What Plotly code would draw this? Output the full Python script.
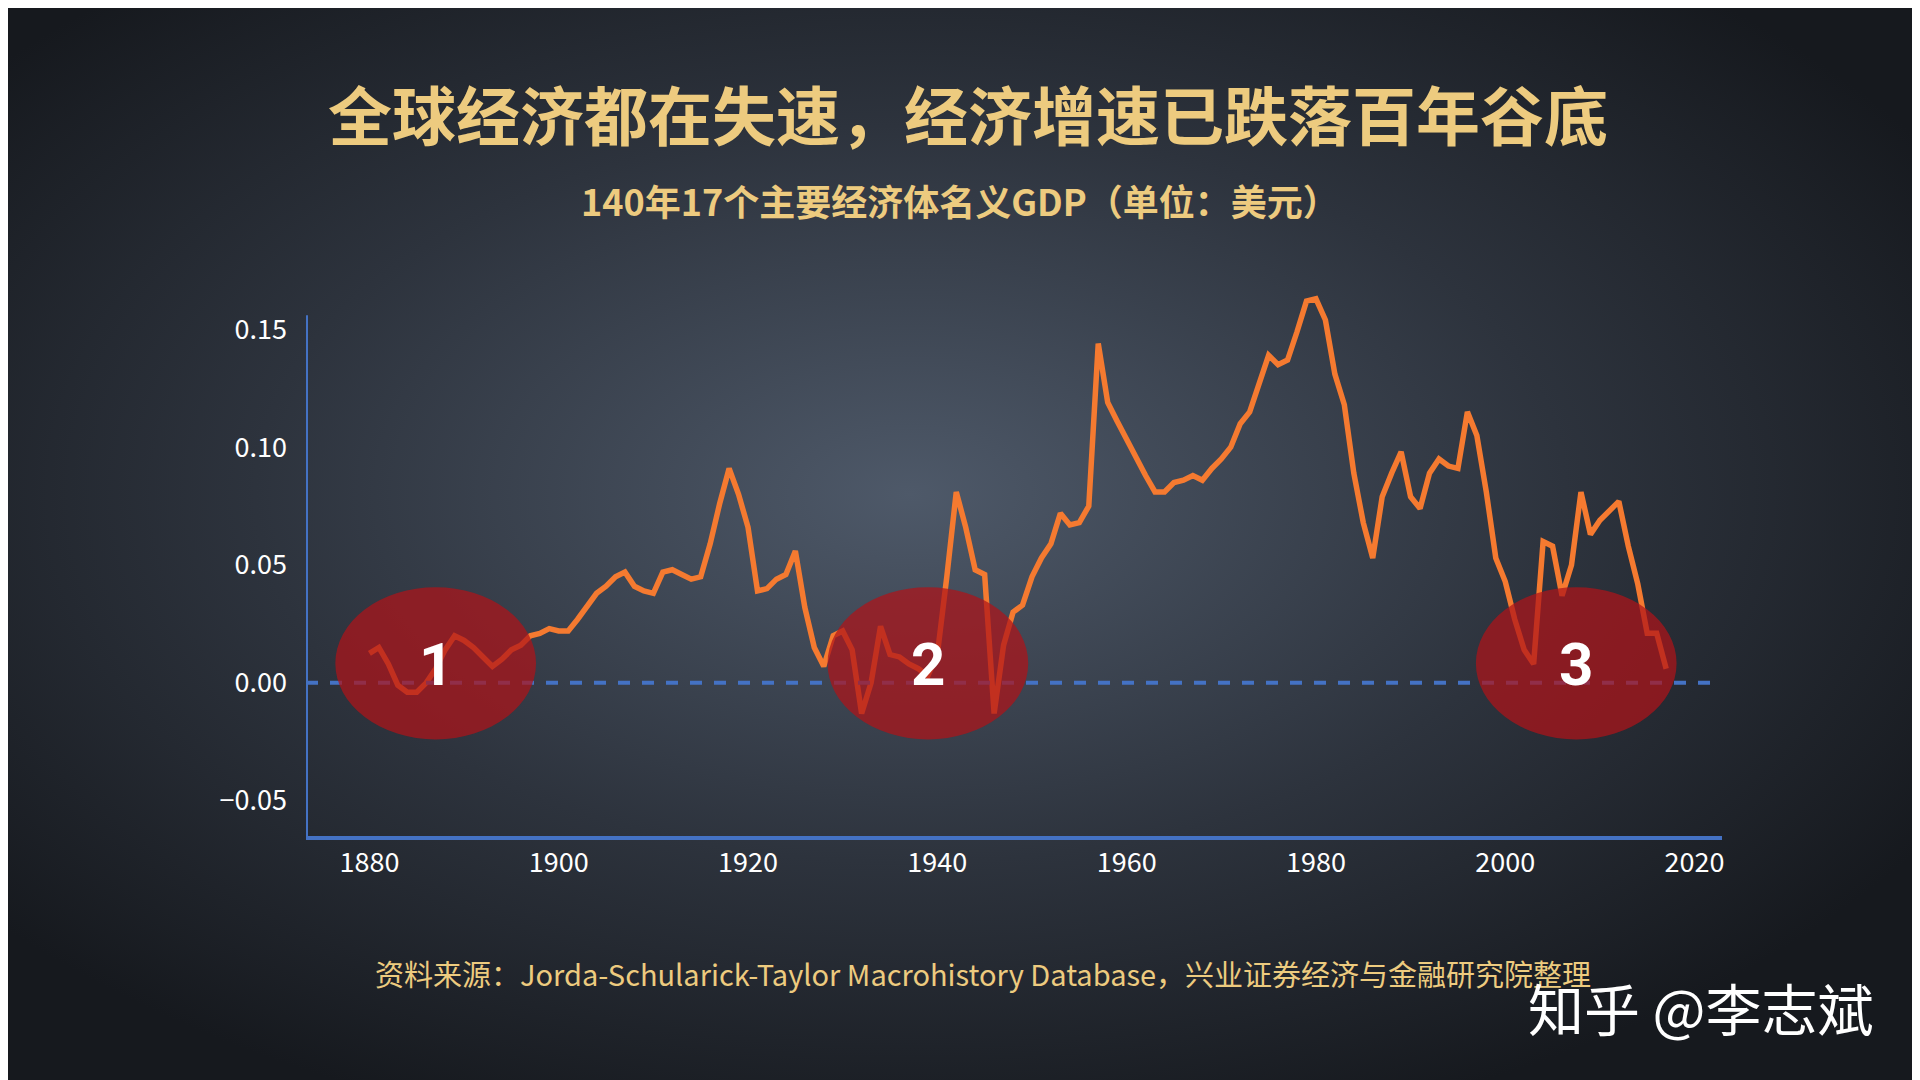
import base64
import plotly.graph_objects as go

# data
years = list(range(1880, 2018))
growth = [0.0125, 0.015, 0.008, -0.001, -0.004, -0.004, 0.000, 0.006, 0.014, 0.020,
          0.018, 0.015, 0.011, 0.007, 0.010, 0.014, 0.016, 0.020, 0.021, 0.023,
          0.022, 0.022, 0.027, 0.033, 0.038, 0.041, 0.045, 0.047, 0.041, 0.039,
          0.038, 0.047, 0.048, 0.046, 0.044, 0.045, 0.059, 0.076, 0.091, 0.080,
          0.066, 0.039, 0.040, 0.044, 0.046, 0.056, 0.032, 0.015, 0.007, 0.020,
          0.022, 0.014, -0.013, 0.000, 0.024, 0.012, 0.011, 0.008, 0.006, 0.003,
          0.012, 0.045, 0.081, 0.066, 0.048, 0.046, -0.013, 0.016, 0.030, 0.033,
          0.045, 0.053, 0.059, 0.072, 0.067, 0.068, 0.075, 0.144, 0.119, 0.111,
          0.103, 0.095, 0.088, 0.081, 0.081, 0.085, 0.086, 0.088, 0.086, 0.091,
          0.095, 0.100, 0.110, 0.115, 0.127, 0.139, 0.135, 0.137, 0.149, 0.162,
          0.163, 0.154, 0.131, 0.118, 0.089, 0.068, 0.053, 0.079, 0.089, 0.098,
          0.079, 0.074, 0.089, 0.095, 0.092, 0.091, 0.115, 0.105, 0.081, 0.053,
          0.043, 0.027, 0.014, 0.008, 0.060, 0.058, 0.037, 0.050, 0.081, 0.063,
          0.069, 0.073, 0.077, 0.058, 0.042, 0.021, 0.021, 0.006]
circle_years = [1887, 1939, 2007.5]
circle_labels = ["1", "2", "3"]
x_ticks = [1880, 1900, 1920, 1940, 1960, 1980, 2000, 2020]
y_ticks = [-0.05, 0.0, 0.05, 0.10, 0.15]

X0, X1 = 1873.3, 2022.9
Y0, Y1 = -0.065, 0.168
gold = "#EDCB7F"
blue = "#4472C4"
L, R, T, B = 298, 206, 279, 252
PW, PH = 1920 - L - R, 1080 - T - B

svg = ('<svg xmlns="http://www.w3.org/2000/svg" width="1920" height="1080">'
       '<defs><radialGradient id="g" cx="0.47" cy="0.45" r="0.62">'
       '<stop offset="0" stop-color="#4e5969"/><stop offset="0.55" stop-color="#2d333d"/>'
       '<stop offset="1" stop-color="#16191e"/></radialGradient></defs>'
       '<rect width="1920" height="1080" fill="url(#g)"/></svg>')
bg = "data:image/svg+xml;base64," + base64.b64encode(svg.encode()).decode()

fig = go.Figure()
fig.add_trace(go.Scatter(x=years, y=growth, mode="lines",
                         line=dict(color="#F57A30", width=5.5), showlegend=False))

shapes = [
    dict(type="line", xref="x", yref="y", x0=X0, x1=X1, y0=0, y1=0,
         line=dict(color=blue, width=4, dash="dash")),
    dict(type="line", xref="x", yref="y", x0=X0, x1=X0, y0=Y0, y1=0.156,
         line=dict(color=blue, width=4)),
]
annotations = []
for cy, lab in zip(circle_years, circle_labels):
    shapes.append(dict(type="circle", xref="x", yref="y", x0=cy - 10.6, x1=cy + 10.6,
                       y0=0.0083 - 0.0323, y1=0.0083 + 0.0323,
                       fillcolor="rgba(175,20,25,0.72)", line=dict(width=0)))
    annotations.append(dict(x=cy, y=0.008, xref="x", yref="y", text="<b>%s</b>" % lab,
                            showarrow=False,
                            font=dict(size=60, color="white", family="Liberation Sans Narrow, Roboto")))


def ptext(px, py, text, size, color, xanchor="center"):
    annotations.append(dict(x=(px - L) / PW, y=(1080 - B - py) / PH, xref="paper", yref="paper",
                            text=text, showarrow=False, xanchor=xanchor, yanchor="middle",
                            font=dict(size=size, color=color, family="Noto Sans CJK SC")))


ptext(960, 104, "<b>全球经济都在失速，经济增速已跌落百年谷底</b>", 64, gold)
ptext(952, 192, "<b>140年17个主要经济体名义GDP（单位：美元）</b>", 36, gold)
ptext(365, 965, "资料来源：Jorda-Schularick-Taylor Macrohistory Database，兴业证券经济与金融研究院整理",
      29, gold, "left")
ptext(1868, 998, "知乎 @李志斌", 56, "white", "right")

fig.update_layout(
    width=1920, height=1080,
    margin=dict(l=L, r=R, t=T, b=B),
    paper_bgcolor="#22272f", plot_bgcolor="rgba(0,0,0,0)",
    images=[dict(source=bg, xref="paper", yref="paper", x=-L / PW, y=1 + T / PH,
                 sizex=1920 / PW, sizey=1080 / PH,
                 xanchor="left", yanchor="top", sizing="stretch", layer="below")],
    xaxis=dict(range=[X0, X1], tickvals=x_ticks, showgrid=False, zeroline=False,
               showline=True, linecolor=blue, linewidth=4, ticks="",
               tickfont=dict(size=27, color="white", family="Noto Sans CJK SC")),
    yaxis=dict(range=[Y0, Y1], tickvals=y_ticks, tickformat=".2f", showgrid=False,
               zeroline=False, showline=False, ticks="", ticklabelstandoff=18,
               tickfont=dict(size=27, color="white", family="Noto Sans CJK SC")),
    shapes=shapes,
    annotations=annotations,
)

fig.write_html("out.html")
